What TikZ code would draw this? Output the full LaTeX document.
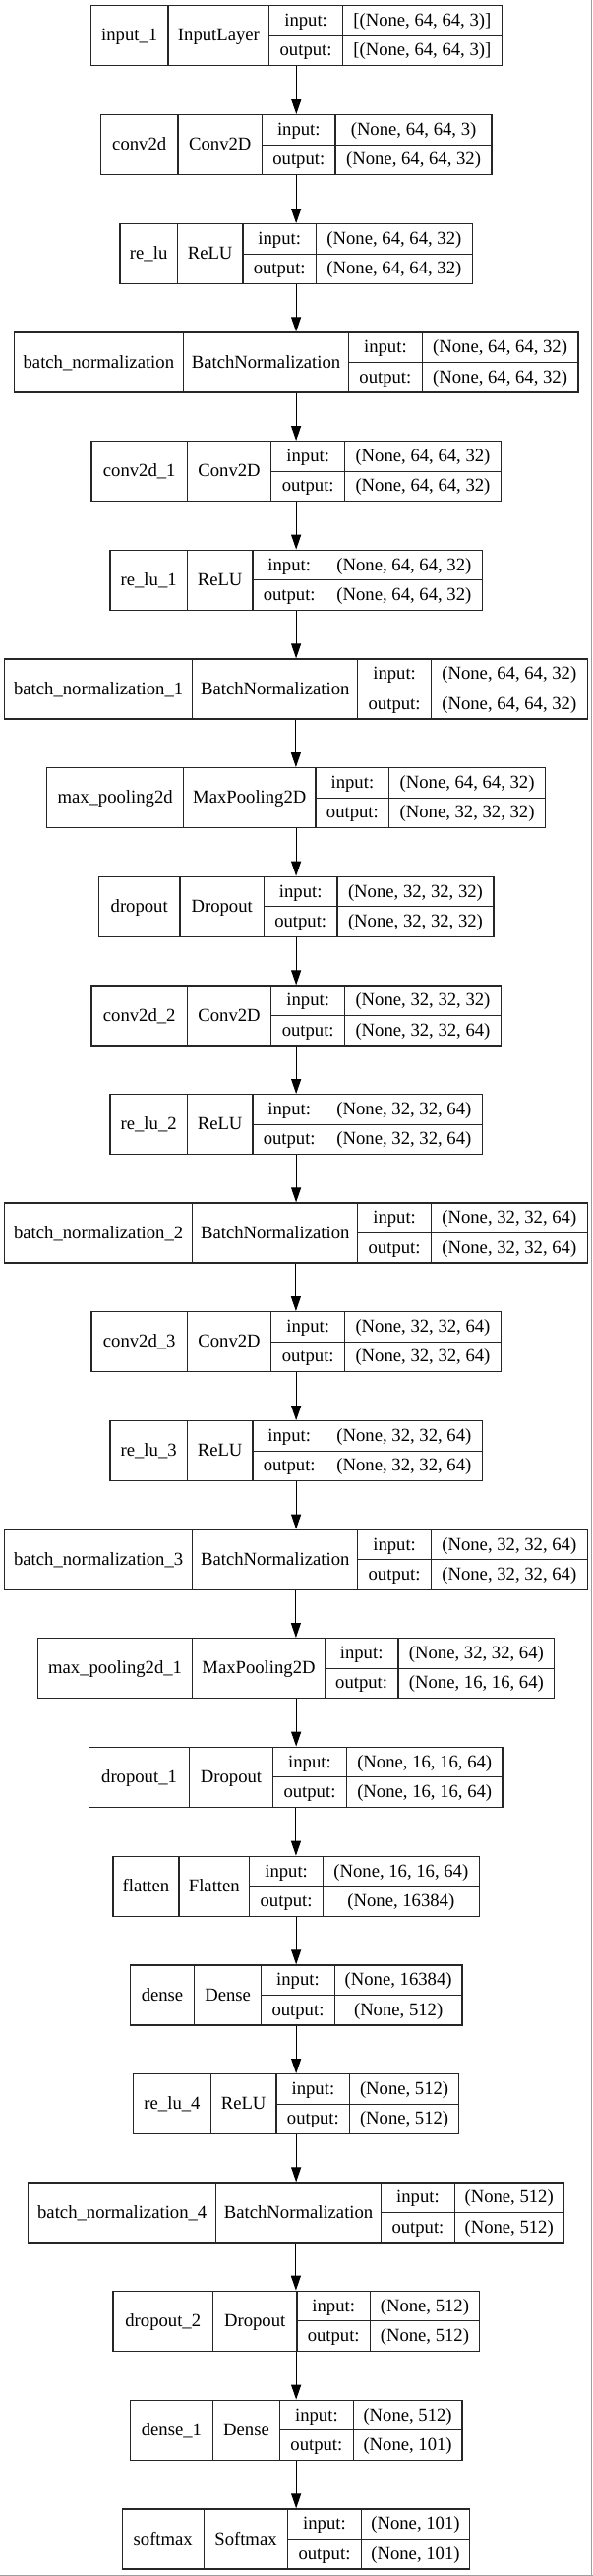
\documentclass[tikz,border=0pt]{standalone}
\usepackage{fontspec}
\setmainfont{Liberation Serif}
\usetikzlibrary{arrows.meta,fit}
\tikzset{
  box/.style={draw=black!85, line width=1pt, inner sep=0pt},
  cell/.style={draw=black!85, line width=1pt},
  txt/.style={anchor=base, inner sep=0pt, font=\fontsize{14pt}{16pt}\selectfont},
  arr/.style={draw=black, line width=0.8pt, -{Triangle[length=11.25pt,width=7.5pt]}},
  frameline/.style={draw=black!38, line width=0.8pt}
}
% id, top, x0, x1, x2, x3, x4
\newcommand\layerbox[7]{%
  \coordinate (#1-nw) at (#3,#2);
  \coordinate (#1-se) at (#7,{#2+61});
  \node[box, fit=(#1-nw)(#1-se)] (#1) {};
  \draw[cell] (#4,#2) -- (#4,{#2+61}) (#5,#2) -- (#5,{#2+61})
              (#6,#2) -- (#6,{#2+61}) (#5,{#2+30.5}) -- (#7,{#2+30.5});
  \coordinate (#1-n) at ({(#3+#4)/2},{#2+36});
  \coordinate (#1-c) at ({(#4+#5)/2},{#2+36});
  \coordinate (#1-i) at ({(#5+#6)/2},{#2+20.75});
  \coordinate (#1-o) at ({(#5+#6)/2},{#2+51.25});
  \coordinate (#1-si) at ({(#6+#7)/2},{#2+20.75});
  \coordinate (#1-so) at ({(#6+#7)/2},{#2+51.25});
}
% id, name, class, in shape, out shape
\newcommand\layertext[5]{%
  \node[txt] (#1-tn) at (#1-n) {#2};
  \node[txt] (#1-tc) at (#1-c) {#3};
  \node[txt] (#1-ti) at (#1-i) {input:};
  \node[txt] (#1-to) at (#1-o) {output:};
  \node[txt] (#1-tsi) at (#1-si) {#4};
  \node[txt] (#1-tso) at (#1-so) {#5};
}
\begin{document}
\begin{tikzpicture}[x=0.75pt,y=-0.75pt]
\useasboundingbox (0,0) rectangle (603,2619);
\fill[white] (0,0) rectangle (603,2619);

\layerbox{b1}{5.7}{92.3}{171.1}{273.8}{348.4}{510.3}
\layertext{b1}{input\_1}{InputLayer}{[(None, 64, 64, 3)]}{[(None, 64, 64, 3)]}

\layerbox{b2}{116.7}{102.3}{181.1}{266.5}{341.1}{500}
\layertext{b2}{conv2d}{Conv2D}{(None, 64, 64, 3)}{(None, 64, 64, 32)}

\layerbox{b3}{227.7}{121.9}{180.4}{246.9}{321.5}{480.3}
\layertext{b3}{re\_lu}{ReLU}{(None, 64, 64, 32)}{(None, 64, 64, 32)}

\layerbox{b4}{338}{14.2}{186.5}{354.6}{429.2}{588}
\layertext{b4}{batch\_normalization}{BatchNormalization}{(None, 64, 64, 32)}{(None, 64, 64, 32)}

\layerbox{b5}{448.7}{93.1}{190.4}{275.7}{350.7}{509.2}
\layertext{b5}{conv2d\_1}{Conv2D}{(None, 64, 64, 32)}{(None, 64, 64, 32)}

\layerbox{b6}{559.3}{111.9}{190.4}{256.9}{331.5}{490.3}
\layertext{b6}{re\_lu\_1}{ReLU}{(None, 64, 64, 32)}{(None, 64, 64, 32)}

\layerbox{b7}{670}{4.6}{195.7}{363.8}{438.4}{597.2}
\layertext{b7}{batch\_normalization\_1}{BatchNormalization}{(None, 64, 64, 32)}{(None, 64, 64, 32)}

\layerbox{b8}{780.7}{47.7}{186.5}{321.1}{395.7}{554.5}
\layertext{b8}{max\_pooling2d}{MaxPooling2D}{(None, 64, 64, 32)}{(None, 32, 32, 32)}

\layerbox{b9}{891.3}{100.4}{183}{268.4}{343}{501.9}
\layertext{b9}{dropout}{Dropout}{(None, 32, 32, 32)}{(None, 32, 32, 32)}

\layerbox{b10}{1002}{93.1}{190.4}{275.7}{350.7}{509.2}
\layertext{b10}{conv2d\_2}{Conv2D}{(None, 32, 32, 32)}{(None, 32, 32, 64)}

\layerbox{b11}{1112.7}{111.9}{190.4}{256.9}{331.5}{490.3}
\layertext{b11}{re\_lu\_2}{ReLU}{(None, 32, 32, 64)}{(None, 32, 32, 64)}

\layerbox{b12}{1223}{4.6}{195.7}{363.8}{438.4}{597.2}
\layertext{b12}{batch\_normalization\_2}{BatchNormalization}{(None, 32, 32, 64)}{(None, 32, 32, 64)}

\layerbox{b13}{1333.7}{93.1}{190.4}{275.7}{350.7}{509.2}
\layertext{b13}{conv2d\_3}{Conv2D}{(None, 32, 32, 64)}{(None, 32, 32, 64)}

\layerbox{b14}{1444.7}{111.9}{190.4}{256.9}{331.5}{490.3}
\layertext{b14}{re\_lu\_3}{ReLU}{(None, 32, 32, 64)}{(None, 32, 32, 64)}

\layerbox{b15}{1555.3}{4.6}{195.7}{363.8}{438.4}{597.2}
\layertext{b15}{batch\_normalization\_3}{BatchNormalization}{(None, 32, 32, 64)}{(None, 32, 32, 64)}

\layerbox{b16}{1665.7}{38.5}{195.7}{330.3}{405}{563.8}
\layertext{b16}{max\_pooling2d\_1}{MaxPooling2D}{(None, 32, 32, 64)}{(None, 16, 16, 64)}

\layerbox{b17}{1776.3}{90.8}{192.3}{277.7}{352.3}{511.1}
\layertext{b17}{dropout\_1}{Dropout}{(None, 16, 16, 64)}{(None, 16, 16, 64)}

\layerbox{b18}{1887.3}{115}{181.9}{253.8}{328.4}{487.3}
\layertext{b18}{flatten}{Flatten}{(None, 16, 16, 64)}{(None, 16384)}

\layerbox{b19}{1998}{132.3}{197.7}{265.7}{340.3}{470}
\layertext{b19}{dense}{Dense}{(None, 16384)}{(None, 512)}

\layerbox{b20}{2108.7}{135.8}{214.2}{281.1}{355.7}{466.5}
\layertext{b20}{re\_lu\_4}{ReLU}{(None, 512)}{(None, 512)}

\layerbox{b21}{2219}{28.8}{219.6}{387.6}{462.3}{573}
\layertext{b21}{batch\_normalization\_4}{BatchNormalization}{(None, 512)}{(None, 512)}

\layerbox{b22}{2329.3}{115}{216.5}{301.9}{376.5}{487.3}
\layertext{b22}{dropout\_2}{Dropout}{(None, 512)}{(None, 512)}

\layerbox{b23}{2440.3}{132.3}{216.5}{284.6}{359.2}{470}
\layertext{b23}{dense\_1}{Dense}{(None, 512)}{(None, 101)}

\layerbox{b24}{2551}{124.2}{207.3}{292.7}{367.3}{477.6}
\layertext{b24}{softmax}{Softmax}{(None, 101)}{(None, 101)}

\foreach \a/\b in {b1/b2,b2/b3,b3/b4,b4/b5,b5/b6,b6/b7,b7/b8,b8/b9,b9/b10,b10/b11,b11/b12,b12/b13,b13/b14,b14/b15,b15/b16,b16/b17,b17/b18,b18/b19,b19/b20,b20/b21,b21/b22,b22/b23,b23/b24}
  \draw[arr] (\a.south) -- (\a.south |- \b.north);

\draw[frameline] (601.5,0) -- (601.5,2618.5);
\draw[frameline] (0,2618.5) -- (603,2618.5);
\end{tikzpicture}
\end{document}
